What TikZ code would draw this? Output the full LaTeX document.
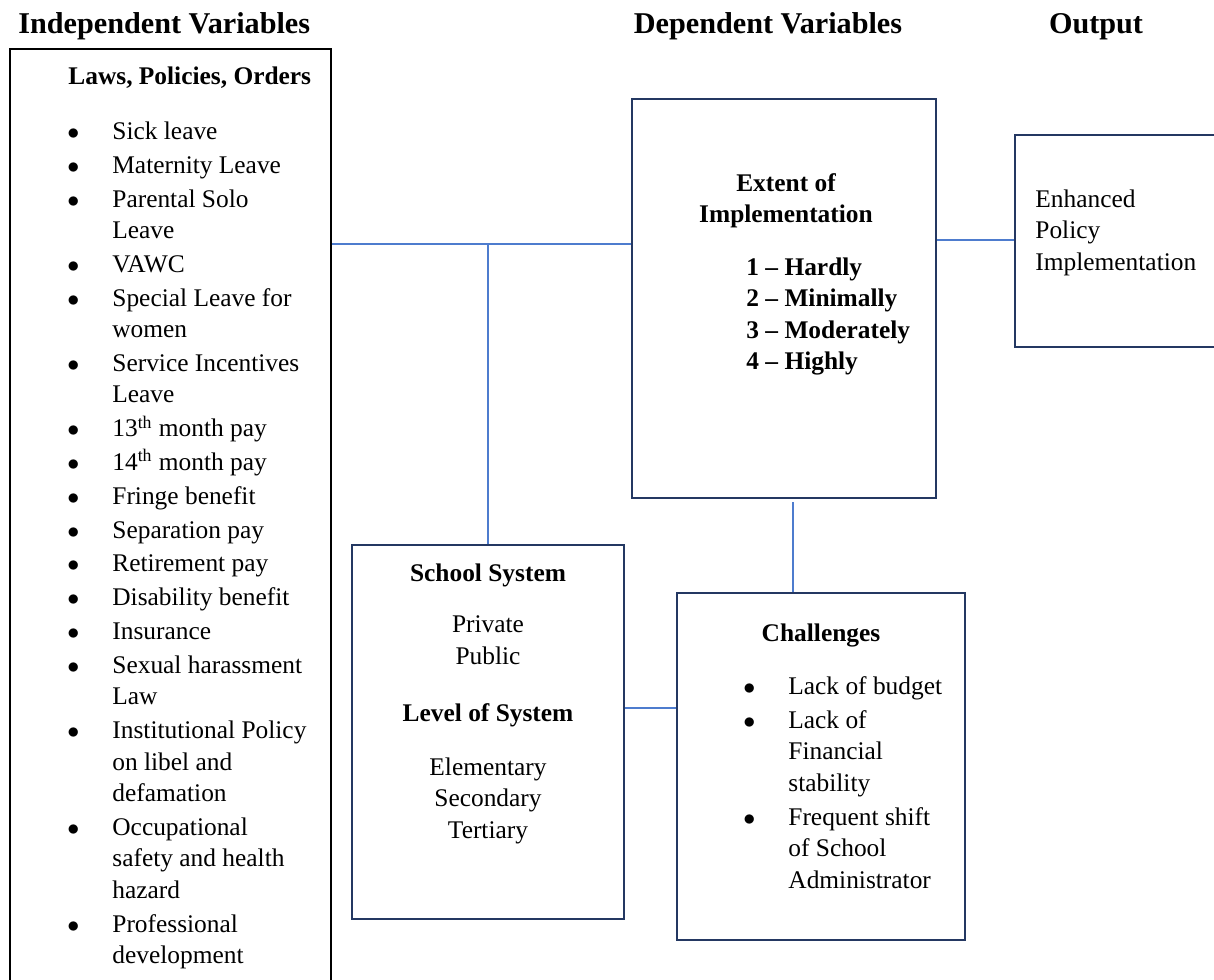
\documentclass[tikz,border=0pt]{standalone}
\usepackage{fontspec}
\setmainfont{Liberation Serif}
\usepackage{xcolor}
\usetikzlibrary{positioning,calc}

\definecolor{boxline}{RGB}{36,56,98}
\definecolor{linkblue}{RGB}{78,124,206}

% bullet cell for the lists
\newcommand{\bul}{$\bullet$}

\begin{document}
\begin{tikzpicture}[
    x=0.5pt,y=-0.5pt,
    body/.style={font=\fontsize{12.7}{15.75}\selectfont,inner sep=0pt},
    bold/.style={font=\fontsize{12.7}{15.75}\selectfont\bfseries,inner sep=0pt},
    title/.style={font=\fontsize{15.1}{18}\selectfont\bfseries,inner sep=0pt,anchor=base},
    lawbox/.style={draw=black,line width=1.3pt,inner sep=0pt},
    box/.style={draw=boxline,line width=1.2pt,inner sep=0pt},
    link/.style={draw=linkblue,line width=0.8pt},
    listtext/.style={body,anchor=north west}
  ]
    \useasboundingbox (0,0) rectangle (1214,979);
    \fill[white] (0,0) rectangle (1214,979);
    \clip (0,0) rectangle (1214,979);

    % column titles
    \node[title,anchor=base west] (tind) at (18,34) {Independent Variables};
    \node[title] (tdep) at (768,34) {Dependent Variables};
    \node[title] (tout) at (1096,34) {Output};

    % boxes
    \node[lawbox,minimum width=160.5pt,minimum height=480.5pt] (L) at (170.5,529.5) {};
    \node[box,minimum width=152pt,minimum height=199.5pt] (E) at (784,298.5) {};
    \node[box,minimum width=112.5pt,minimum height=106pt] (O) at (1127.5,241) {};
    \node[box,minimum width=136pt,minimum height=187pt] (S) at (488,732) {};
    \node[box,minimum width=144pt,minimum height=173.5pt] (C) at (821,766.5) {};

    % independent variables
    \node[bold,anchor=base west] (lawhead) at (68,84) {Laws, Policies, Orders};
    \node[listtext] (laws) at (67,117) {%
      \begin{tabular}{@{}p{22.5pt}@{}l@{}}
        \bul & Sick leave\\[1.15pt]
        \bul & Maternity Leave\\[1.15pt]
        \bul & Parental Solo\\ & Leave\\[1.15pt]
        \bul & VAWC\\[1.15pt]
        \bul & Special Leave for\\ & women\\[1.15pt]
        \bul & Service Incentives\\ & Leave\\[1.15pt]
        \bul & 13\textsuperscript{th} month pay\\[1.15pt]
        \bul & 14\textsuperscript{th} month pay\\[1.15pt]
        \bul & Fringe benefit\\[1.15pt]
        \bul & Separation pay\\[1.15pt]
        \bul & Retirement pay\\[1.15pt]
        \bul & Disability benefit\\[1.15pt]
        \bul & Insurance\\[1.15pt]
        \bul & Sexual harassment\\ & Law\\[1.15pt]
        \bul & Institutional Policy\\ & on libel and\\ & defamation\\[1.15pt]
        \bul & Occupational\\ & safety and health\\ & hazard\\[1.15pt]
        \bul & Professional\\ & development
      \end{tabular}};

    % dependent variables
    \node[bold,align=center,anchor=north] (ehead) at (786,173) {Extent of\\Implementation};
    \node[bold,align=left,anchor=north west] (escale) at (746,257)
      {1 -- Hardly\\2 -- Minimally\\3 -- Moderately\\4 -- Highly};

    \node[body,align=center,anchor=north] (school) at (488,563)
      {\textbf{School System}\\[10pt]Private\\Public\\[13pt]\textbf{Level of System}\\[11pt]Elementary\\Secondary\\Tertiary};

    \node[bold,anchor=north] (chead) at (821,623) {Challenges};
    \node[listtext] (chal) at (743,672) {%
      \begin{tabular}{@{}p{22.5pt}@{}l@{}}
        \bul & Lack of budget\\[1.15pt]
        \bul & Lack of\\ & Financial\\ & stability\\[1.15pt]
        \bul & Frequent shift\\ & of School\\ & Administrator
      \end{tabular}};

    % output
    \node[listtext,align=left] (outtext) at (1035,189) {Enhanced\\Policy\\Implementation};

    % connectors
    \coordinate (jl) at (488,244);
    \draw[link] (jl -| L.east) -- (jl -| E.west);
    \draw[link] (jl) -- (S.north);
    \coordinate (jo) at (975,240);
    \draw[link] (jo -| E.east) -- (jo -| O.west);
    \coordinate (jc) at (793,502);
    \draw[link] (jc) -- (jc |- C.north);
    \coordinate (js) at (650,708);
    \draw[link] (js -| S.east) -- (js -| C.west);
\end{tikzpicture}
\end{document}
